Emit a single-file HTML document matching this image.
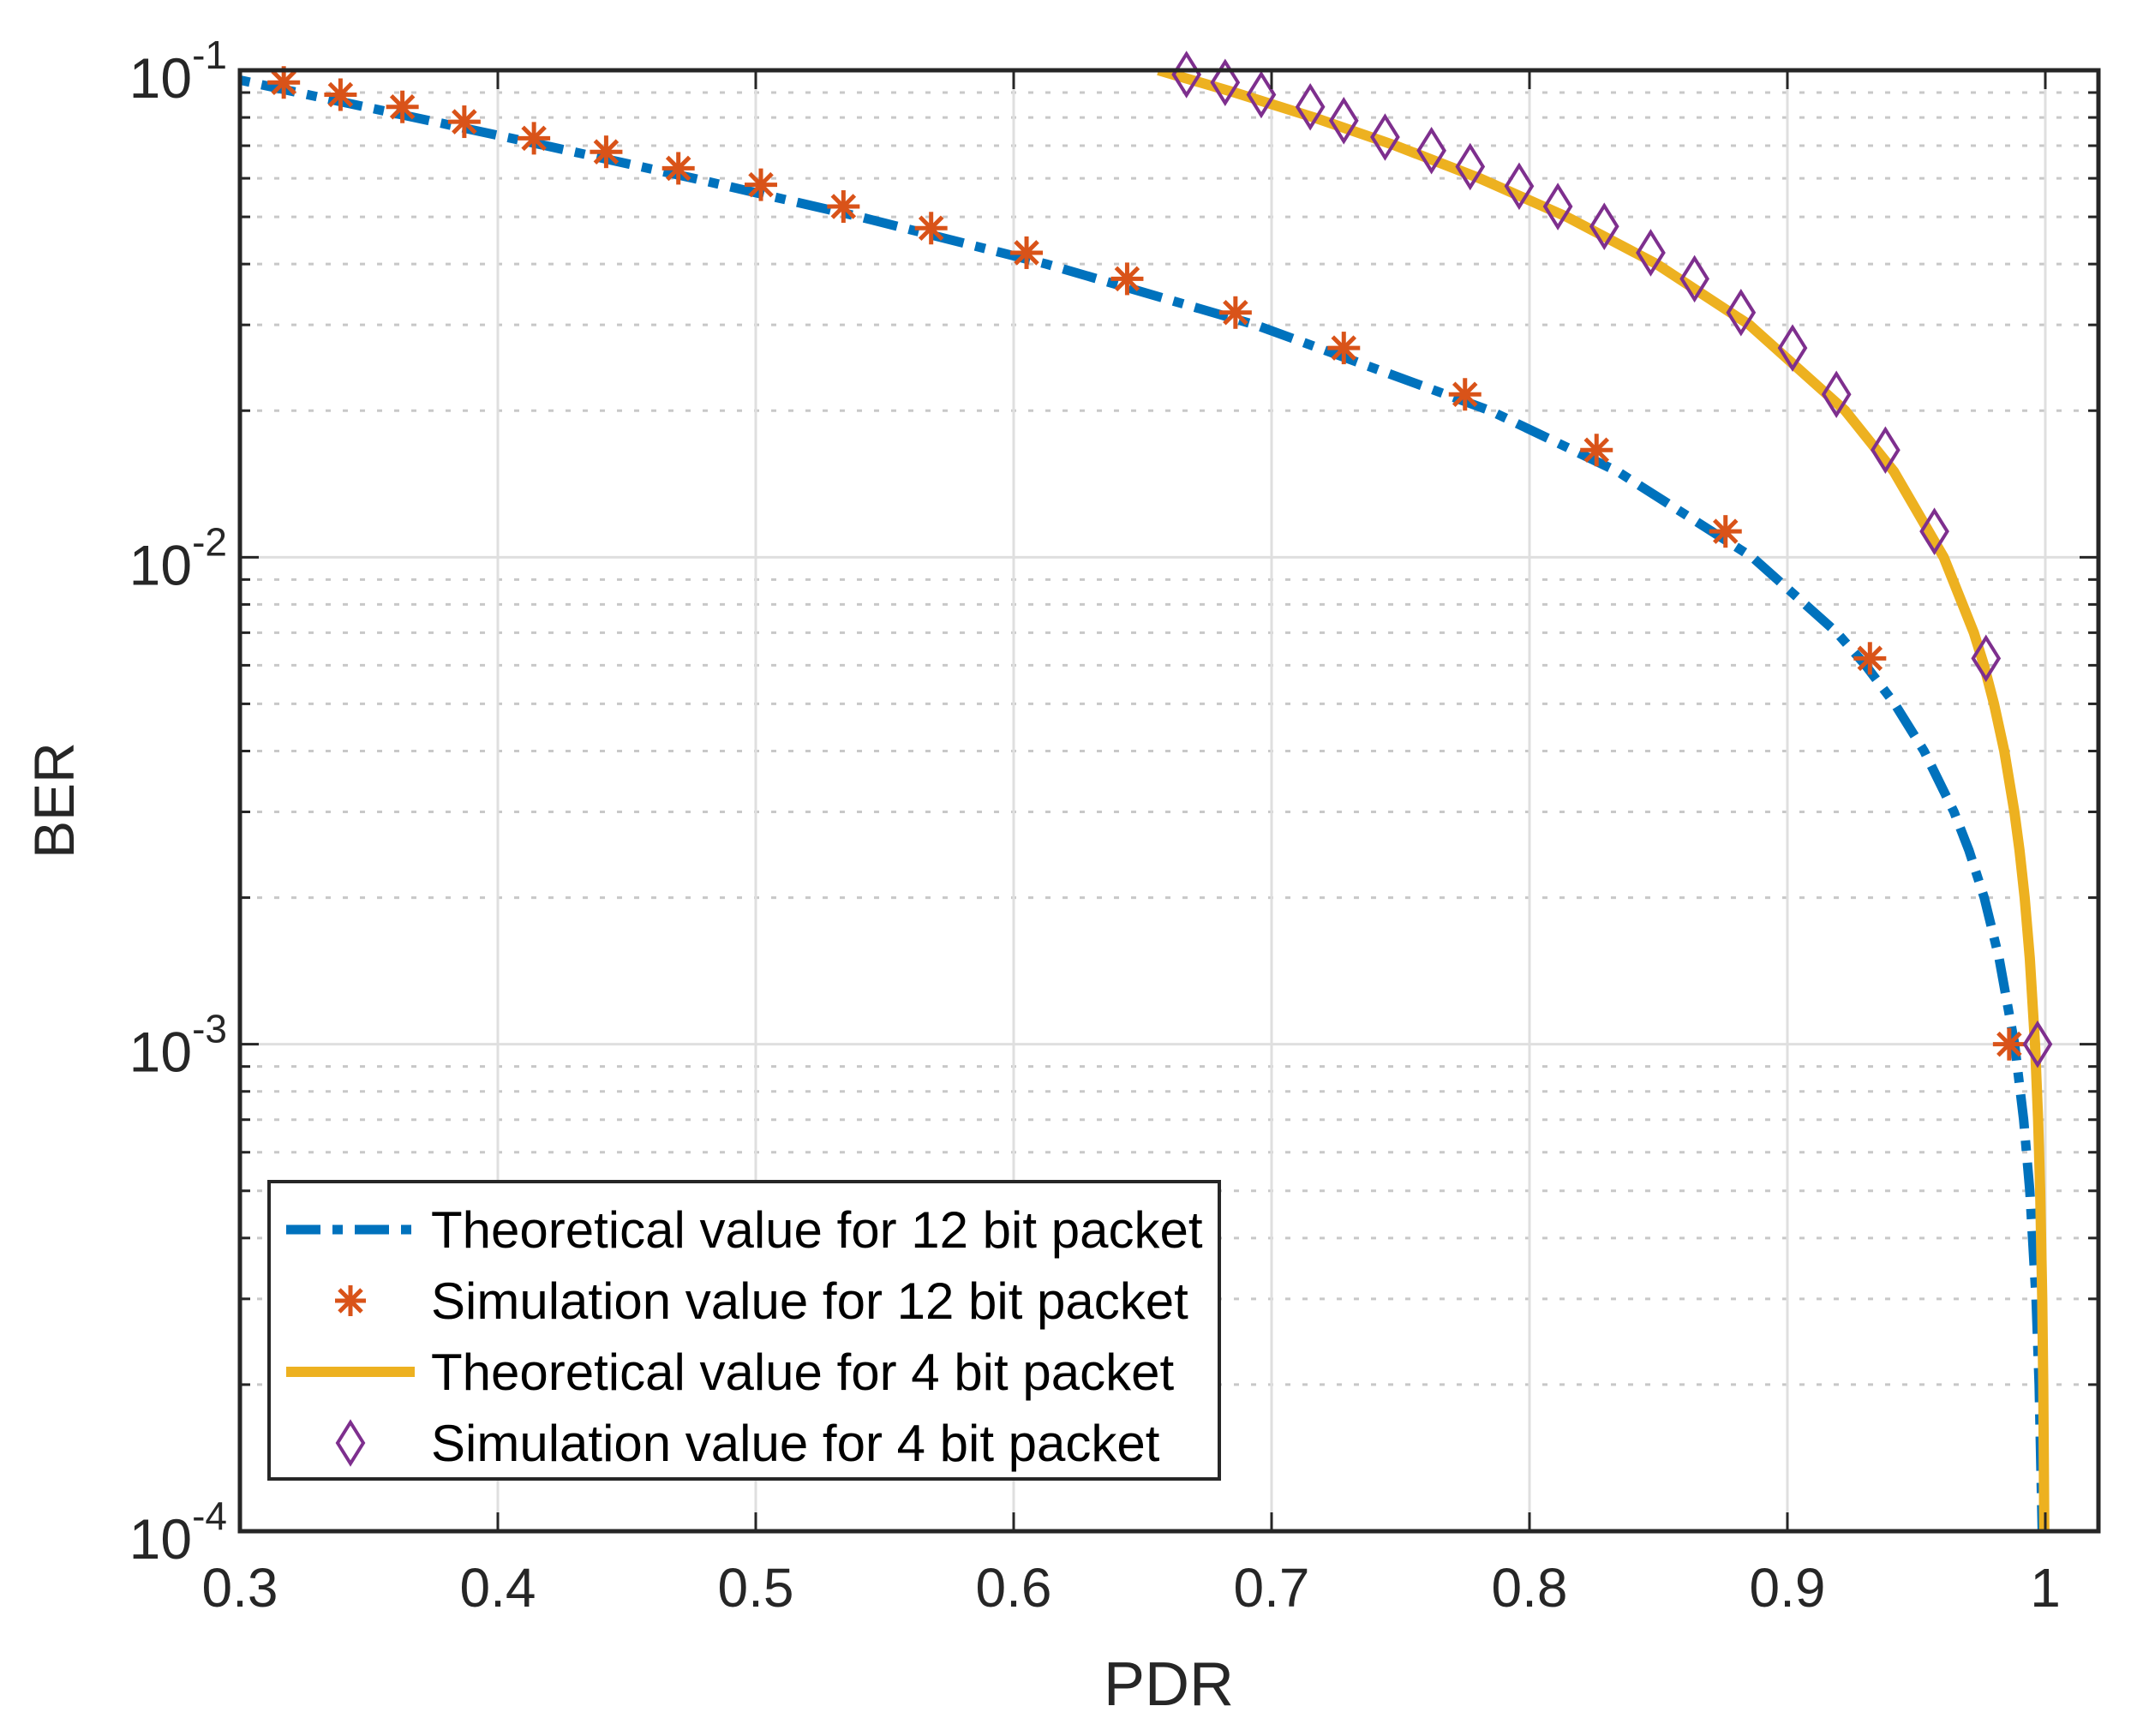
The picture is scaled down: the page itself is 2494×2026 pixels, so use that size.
<!DOCTYPE html>
<html><head><meta charset="utf-8"><style>
html,body{margin:0;padding:0;background:#fff;}
svg{display:block;font-family:"Liberation Sans",Arial,sans-serif;}
</style></head><body>
<svg id="chart" width="2494" height="2026" viewBox="0 0 2494 2026" xmlns="http://www.w3.org/2000/svg">
<rect x="0" y="0" width="2494" height="2026" fill="#fff"/>
<defs><clipPath id="plotclip"><rect x="280" y="82" width="2169" height="1705"/></clipPath></defs>
<g id="grid"></g>
<g id="series" clip-path="url(#plotclip)"></g>
<g id="markers"></g>
<g id="axes"></g>
<text x="1364" y="1990" font-size="72" text-anchor="middle" fill="#262626">PDR</text>
<text x="0" y="0" font-size="66" text-anchor="middle" fill="#262626" transform="translate(86,934) rotate(-90)">BER</text>
<g id="legend">
<rect x="314" y="1379" width="1109" height="347" fill="#fff" stroke="#262626" stroke-width="4"/>
<line x1="334" y1="1435" x2="484" y2="1435" stroke="#0072BD" stroke-width="11" stroke-dasharray="40 14 12 14"/>
<text x="503" y="1456" font-size="60" fill="#000">Theoretical value for 12 bit packet</text>
<g stroke="#D95319" stroke-width="5" transform="translate(409,1518)">
<line x1="-18" y1="0" x2="18" y2="0"/><line x1="0" y1="-18" x2="0" y2="18"/><line x1="-13" y1="-13" x2="13" y2="13"/><line x1="-13" y1="13" x2="13" y2="-13"/></g>
<text x="503" y="1539" font-size="60" fill="#000">Simulation value for 12 bit packet</text>
<line x1="334" y1="1601" x2="484" y2="1601" stroke="#EDB120" stroke-width="12"/>
<text x="503" y="1622" font-size="60" fill="#000">Theoretical value for 4 bit packet</text>
<polygon points="409,1660 424,1684 409,1708 394,1684" fill="none" stroke="#7E2F8E" stroke-width="4"/>
<text x="503" y="1705" font-size="60" fill="#000">Simulation value for 4 bit packet</text>
</g>
</svg>
<script>
const xTicks = [0.3,0.4,0.5,0.6,0.7,0.8,0.9,1];
const xTickLabels = ["0.3","0.4","0.5","0.6","0.7","0.8","0.9","1"];
const yDecades = [-4,-3,-2,-1];
const theoryBer = [0.1,0.09,0.08,0.07,0.06,0.05,0.04,0.03,0.02,0.015,0.01,0.007,0.006,0.005,0.004,0.003,0.0025,0.002,0.0015,0.001,0.0007,0.0005,0.0003,0.0002,0.0001];
const theory12Pdr = [0.2824,0.3225,0.3677,0.4186,0.4759,0.5404,0.6127,0.6938,0.7847,0.8342,0.8864,0.9192,0.9303,0.9416,0.9530,0.9646,0.9704,0.9763,0.9821,0.9881,0.9916,0.9940,0.9964,0.9976,0.9988];
const theory4Pdr = [0.6561,0.6857,0.7164,0.7481,0.7807,0.8145,0.8493,0.8853,0.9224,0.9413,0.9606,0.9723,0.9762,0.9801,0.9841,0.9880,0.9900,0.9920,0.9940,0.9960,0.9972,0.9980,0.9988,0.9992,0.9996];
const sim12Pdr = [0.317,0.339,0.363,0.387,0.414,0.442,0.470,0.502,0.534,0.568,0.605,0.644,0.686,0.728,0.775,0.826,0.876,0.932,0.986];
const sim12Ber = [0.0944,0.0891,0.0841,0.0784,0.0725,0.0680,0.0629,0.0582,0.0525,0.0474,0.0422,0.0373,0.0318,0.0269,0.0216,0.0166,0.0113,0.0062,0.001];
const sim4Pdr = [0.667,0.682,0.696,0.715,0.728,0.744,0.762,0.777,0.796,0.811,0.829,0.847,0.864,0.882,0.902,0.919,0.938,0.957,0.977,0.997];
const sim4Ber = [0.098,0.0944,0.0891,0.0841,0.0788,0.0729,0.0684,0.0634,0.0578,0.0525,0.0478,0.0422,0.0373,0.0318,0.0269,0.0216,0.0166,0.0113,0.0062,0.001];

const L=280,R=2449,T=82,B=1787;
const X0=0.3,X1=1.0206;
const xs=v=>L+(v-X0)/(X1-X0)*(R-L);
const ys=v=>T+(-1-Math.log10(v))/3*(B-T);
const NS="http://www.w3.org/2000/svg";
function mk(tag,attrs,parent){const e=document.createElementNS(NS,tag);for(const k in attrs)e.setAttribute(k,attrs[k]);parent.appendChild(e);return e;}
const grid=document.getElementById('grid'),axes=document.getElementById('axes'),series=document.getElementById('series'),markers=document.getElementById('markers');

yDecades.forEach(d=>{ if(d>=-1) return; for(let m=2;m<=9;m++){const y=ys(m*Math.pow(10,d));
 const g=mk('line',{x1:L,x2:R,y1:y,y2:y,stroke:'#c8c8c8','stroke-width':3,'stroke-dasharray':'6 14'},grid);
 
 
 const t1=mk('line',{x1:L,x2:L+12,y1:y,y2:y,stroke:'#262626','stroke-width':3},axes);
 
 
 const t2=mk('line',{x1:R-12,x2:R,y1:y,y2:y,stroke:'#262626','stroke-width':3},axes);
 
 
}});
xTicks.forEach((v,i)=>{const x=xs(v);
 const g=mk('line',{x1:x,x2:x,y1:T,y2:B,stroke:'#dfdfdf','stroke-width':3},grid);
 
 
 const t=mk('line',{x1:x,x2:x,y1:B,y2:B-22,stroke:'#262626','stroke-width':3},axes);
 
 
 const t2=mk('line',{x1:x,x2:x,y1:T,y2:T+22,stroke:'#262626','stroke-width':3},axes);
 
 
 const lb=mk('text',{x:x,y:B+88,'font-size':64,'text-anchor':'middle',fill:'#262626'},axes);
 
 
 lb.textContent=xTickLabels[i];
});
yDecades.forEach(d=>{const y=ys(Math.pow(10,d));
 const g=mk('line',{x1:L,x2:R,y1:y,y2:y,stroke:'#dfdfdf','stroke-width':3},grid);
 
 
 const t=mk('line',{x1:L,x2:L+22,y1:y,y2:y,stroke:'#262626','stroke-width':3},axes);
 
 
 const t2=mk('line',{x1:R-22,x2:R,y1:y,y2:y,stroke:'#262626','stroke-width':3},axes);
 
 
 const lb=mk('text',{x:265,y:y+32,'font-size':66,'text-anchor':'end',fill:'#262626'},axes);
 
 
 const base=mk('tspan',{},lb);
 base.textContent='10';
 const ex=mk('tspan',{'font-size':46,dy:-34},lb);
 
 
 ex.textContent='-'+(-d);
});
const box=mk('rect',{x:L,y:T,width:R-L,height:B-T,fill:'none',stroke:'#262626','stroke-width':5},axes);



function pathOf(px,py){return px.map((v,i)=>(i?'L':'M')+xs(v).toFixed(1)+','+ys(py[i]).toFixed(1)).join(' ');}
const l12=mk('path',{d:pathOf(theory12Pdr,theoryBer),fill:'none',stroke:'#0072BD','stroke-width':11,'stroke-dasharray':'40 14 12 14'},series);


const l4=mk('path',{d:pathOf(theory4Pdr,theoryBer),fill:'none',stroke:'#EDB120','stroke-width':12},series);



sim12Pdr.forEach((p,i)=>{const x=xs(p),y=ys(sim12Ber[i]);
 const g=mk('g',{stroke:'#D95319','stroke-width':5,transform:`translate(${x},${y})`},markers);
 
 
 mk('line',{x1:-19,y1:0,x2:19,y2:0},g);mk('line',{x1:0,y1:-19,x2:0,y2:19},g);
 mk('line',{x1:-13,y1:-13,x2:13,y2:13},g);mk('line',{x1:-13,y1:13,x2:13,y2:-13},g);
});
sim4Pdr.forEach((p,i)=>{const x=xs(p),y=ys(sim4Ber[i]);
 const d=mk('polygon',{points:`${x},${y-24} ${x+15},${y} ${x},${y+24} ${x-15},${y}`,fill:'none',stroke:'#7E2F8E','stroke-width':4},markers);
 
 
});
</script>
</body></html>
